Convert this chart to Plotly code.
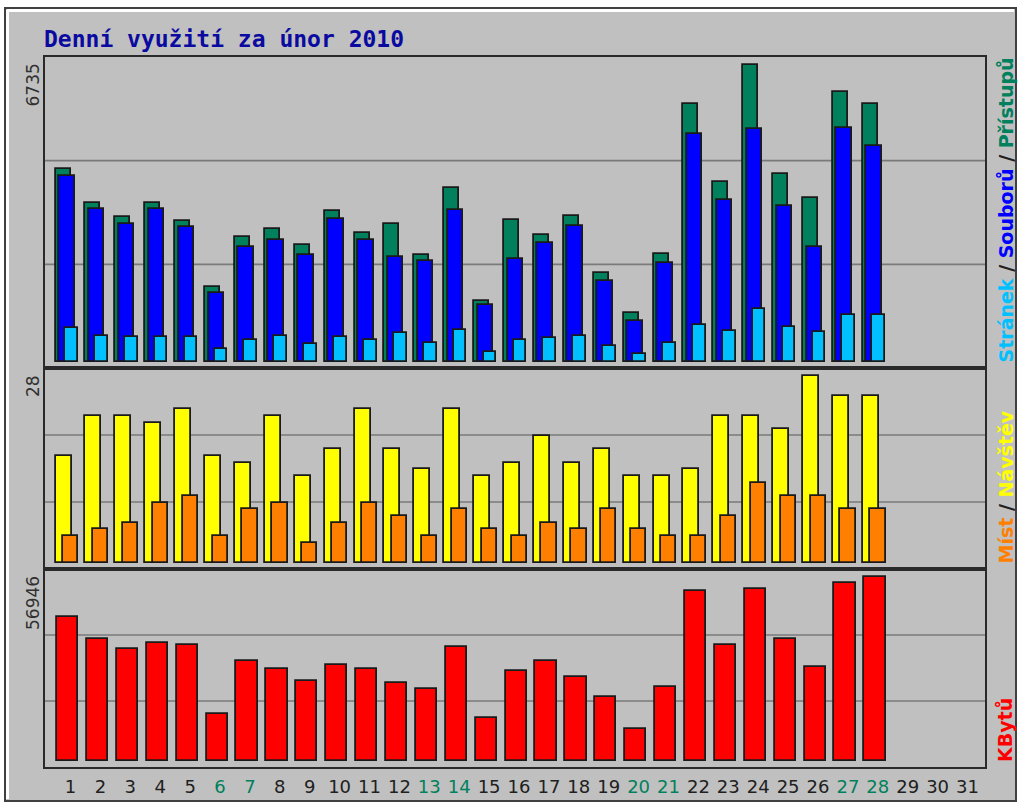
import plotly.graph_objects as go

# ---------------- data ----------------
days = list(range(1, 32))
data_days = list(range(1, 29))
weekend_days = [6, 7, 13, 14, 20, 21, 27, 28]

hits = [4384, 3610, 3291, 3610, 3200, 1691, 2836, 3018, 2654, 3428, 2927, 3117, 2419, 3936,
        1372, 3208, 2882, 3299, 2009, 1092, 2434, 5847, 4072, 6735, 4254, 3708, 6120, 5847]
files = [4209, 3473, 3117, 3473, 3064, 1555, 2601, 2753, 2427, 3246, 2753, 2373, 2290, 3435,
         1274, 2336, 2700, 3071, 1827, 917, 2230, 5164, 3663, 5278, 3526, 2594, 5301, 4891]
pages = [767, 584, 546, 546, 546, 273, 493, 584, 402, 546, 493, 637, 410, 721,
         220, 493, 539, 584, 357, 175, 410, 819, 683, 1183, 774, 660, 1047, 1047]
visits = [16, 22, 22, 21, 23, 16, 15, 22, 13, 17, 23, 17, 14, 23,
          13, 15, 19, 15, 17, 13, 13, 14, 22, 22, 20, 28, 25, 25]
sites = [4, 5, 6, 9, 10, 4, 8, 9, 3, 6, 9, 7, 4, 8,
         5, 4, 6, 5, 8, 5, 4, 4, 7, 12, 10, 10, 8, 8]
kbytes = [44550, 37600, 34500, 36370, 35750, 14570, 30800, 28300, 24600, 29550, 28300, 23960, 22100, 35130,
          13330, 27680, 30800, 25830, 19620, 9700, 22720, 52700, 35750, 53320, 37600, 28920, 55090, 56946]

title = "Denní využití za únor 2010"

# ---------------- geometry ----------------
W, H = 1018, 803
def fx(p):
    return p / W
def fy(p):
    return 1 - p / H

PL, PR = 45, 985
tops = [57, 368, 569]
bots = [368, 569, 767]
C1, S = 70.5, 29.9  # pixel centre of day 1, pixels per day
xr = [1 - (C1 - PL) / S, 1 + (PR - C1) / S]

def yrange(m, top, bot, gb=6.5, gt=8.0):
    h = bot - top
    k = m / (h - gb - gt)
    return [-gb * k, (h - gb) * k]

GREEN = "#00805C"
BLUE = "#0000FF"
CYAN = "#00C0FF"
YELLOW = "#FFFF00"
ORANGE = "#FF8000"
RED = "#FF0000"
BG = "#C0C0C0"
OUT = "#1A1A1A"

fig = go.Figure()

def bar(x, y, color, off_px, w_px, xa, ya):
    fig.add_trace(go.Bar(
        x=x, y=y, xaxis=xa, yaxis=ya,
        offset=off_px / S, width=w_px / S,
        marker=dict(color=color, line=dict(color=OUT, width=1.8)),
        hoverinfo="x+y"))

bar(data_days, hits, GREEN, -15, 15, "x", "y")
bar(data_days, files, BLUE, -11.5, 15.5, "x", "y")
bar(data_days, pages, CYAN, -5.5, 12.7, "x", "y")
bar(data_days, visits, YELLOW, -15, 16, "x2", "y2")
bar(data_days, sites, ORANGE, -7.5, 15.2, "x2", "y2")
bar(data_days, kbytes, RED, -13.5, 21.2, "x3", "y3")

maxes = [max(hits), max(visits), max(kbytes)]

axline = dict(showline=True, linecolor="#2A2A2A", linewidth=1.6, mirror=True,
              zeroline=False, showgrid=False, fixedrange=True)

ticktext = []
for d in days:
    if d in weekend_days:
        ticktext.append('<span style="color:%s">%d</span>' % (GREEN, d))
    else:
        ticktext.append(str(d))

layout = dict(
    width=W, height=H, autosize=False,
    margin=dict(l=0, r=0, t=0, b=0, pad=0),
    paper_bgcolor="white", plot_bgcolor=BG,
    barmode="overlay", showlegend=False,
    bargap=0,
)
for i in range(3):
    sx = "" if i == 0 else str(i + 1)
    layout["xaxis" + sx] = dict(domain=[fx(PL), fx(PR)], range=xr, anchor="y" + sx,
                                showticklabels=(i == 2), ticks="", **axline)
    layout["yaxis" + sx] = dict(domain=[fy(bots[i]), fy(tops[i])],
                                range=yrange(maxes[i], tops[i], bots[i]),
                                anchor="x" + sx, showticklabels=False, ticks="", **axline)
layout["xaxis3"].update(tickmode="array", tickvals=days, ticktext=ticktext,
                        tickfont=dict(family="DejaVu Sans", size=18, color="#202020"),
                        ticklabelstandoff=3)
fig.update_layout(**layout)

shapes = []
# outer frame
shapes.append(dict(type="rect", xref="paper", yref="paper", x0=fx(5), x1=fx(1016),
                   y0=fy(801), y1=fy(8), fillcolor=BG, line=dict(color="#404040", width=2),
                   layer="below"))
shapes.append(dict(type="line", xref="paper", yref="paper", x0=fx(7), x1=fx(1014),
                   y0=fy(10.5), y1=fy(10.5), line=dict(color="white", width=3), layer="below"))
shapes.append(dict(type="line", xref="paper", yref="paper", x0=fx(7.5), x1=fx(7.5),
                   y0=fy(799), y1=fy(10), line=dict(color="white", width=3), layer="below"))
# grid lines (thirds of each panel)
for i in range(3):
    sx = "" if i == 0 else str(i + 1)
    for f in (1 / 3, 2 / 3):
        shapes.append(dict(type="line", xref="x%s domain" % sx, yref="y%s domain" % sx,
                           x0=0, x1=1, y0=f, y1=f, line=dict(color="#7A7A7A", width=1.6),
                           layer="below"))
fig.update_layout(shapes=shapes)

ann = []
ann.append(dict(text="<b>%s</b>" % title, xref="paper", yref="paper", x=fx(42), y=fy(39),
                xanchor="left", yanchor="middle", showarrow=False,
                font=dict(family="DejaVu Sans Mono", size=23, color="#0A0AA0")))
for i in range(3):
    ann.append(dict(text=str(maxes[i]), xref="paper", yref="paper", x=fx(33), y=fy(tops[i] + 5),
                    xanchor="center", yanchor="top", textangle=-90, showarrow=False,
                    font=dict(family="DejaVu Sans", size=17, color="#303030")))

right_labels = [
    '<span style="color:%s">Stránek</span> / <span style="color:%s">Souborů</span> / '
    '<span style="color:%s">Přístupů</span>' % (CYAN, BLUE, GREEN),
    '<span style="color:%s">Míst</span> / <span style="color:%s">Návštěv</span>' % (ORANGE, YELLOW),
    '<span style="color:%s">KBytů</span>' % RED,
]
for i in range(3):
    ann.append(dict(text="<b>%s</b>" % right_labels[i], xref="paper", yref="paper", x=fx(1005),
                    y=fy(bots[i] - 3), xanchor="center", yanchor="bottom", textangle=-90,
                    showarrow=False,
                    font=dict(family="DejaVu Sans", size=19, color="#202020")))
fig.update_layout(annotations=ann)

fig.write_html("out.html", config={"displayModeBar": False},
               post_script="document.body.style.margin='0';"
                           "document.body.style.overflow='hidden';")
